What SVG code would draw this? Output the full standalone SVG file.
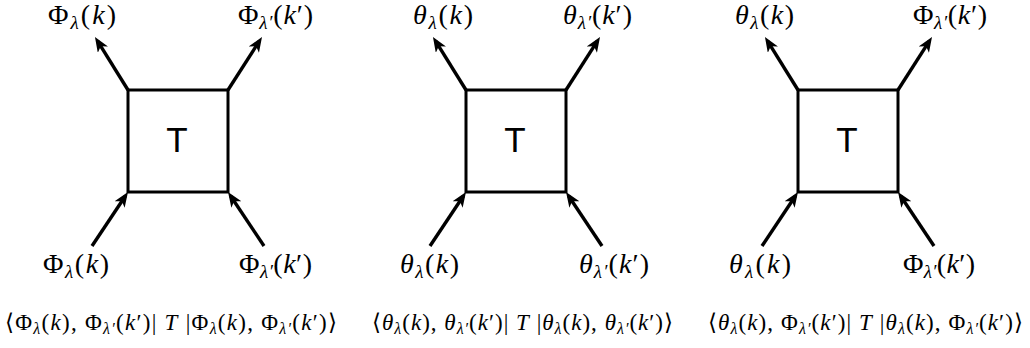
<svg xmlns="http://www.w3.org/2000/svg" width="1030" height="348" viewBox="0 0 1030 348">
<style>
.box{fill:#fff;stroke:#000;stroke-width:3}
.arr{stroke:#000;stroke-width:3.4;fill:none;marker-end:url(#ah)}
.T{font-family:"Liberation Sans",Arial,sans-serif;font-size:35px;text-anchor:middle;fill:#000}
.m{font-family:"Liberation Serif","DejaVu Serif",serif;fill:#000}
.lab{font-size:28px}
.fm{font-size:23px}
.i{font-style:italic}
.s1{font-size:19px;font-style:italic}
.s2{font-size:16px;font-style:italic}
</style>
<defs>
<marker id="ah" markerUnits="userSpaceOnUse" markerWidth="15" markerHeight="12" refX="10" refY="6" orient="auto" viewBox="0 0 15 12">
<path d="M0,0 L15,6 L0,12 L4,6 Z" fill="#000"/>
</marker>
</defs>
<g id="connectors">
<line class="arr" x1="128" y1="90" x2="97.6" y2="41.2"/>
<line class="arr" x1="228" y1="90" x2="259.3" y2="41.2"/>
<line class="arr" x1="92" y1="246" x2="125.2" y2="196.2"/>
<line class="arr" x1="264" y1="246" x2="230.8" y2="196.2"/>
<line class="arr" x1="466" y1="90" x2="435.6" y2="41.2"/>
<line class="arr" x1="566" y1="90" x2="597.3" y2="41.2"/>
<line class="arr" x1="430" y1="246" x2="463.2" y2="196.2"/>
<line class="arr" x1="602" y1="246" x2="568.8" y2="196.2"/>
<line class="arr" x1="798" y1="90" x2="767.6" y2="41.2"/>
<line class="arr" x1="898" y1="90" x2="929.3" y2="41.2"/>
<line class="arr" x1="762" y1="246" x2="795.2" y2="196.2"/>
<line class="arr" x1="934" y1="246" x2="900.8" y2="196.2"/>
</g>
<g id="box1"><rect class="box" x="128" y="90" width="100" height="102"/><text class="T" x="177" y="152">T</text></g>
<g id="box2"><rect class="box" x="466" y="90" width="100" height="102"/><text class="T" x="515" y="152">T</text></g>
<g id="box3"><rect class="box" x="798" y="90" width="100" height="102"/><text class="T" x="847" y="152">T</text></g>
<g id="labels1">
<text class="m lab" x="48" y="24" textLength="68" lengthAdjust="spacing">Φ<tspan class="s1" dy="5">λ</tspan><tspan dy="-5">(</tspan><tspan class="i">k</tspan>)</text>
<text class="m lab" x="238" y="24" textLength="75" lengthAdjust="spacing">Φ<tspan class="s1" dy="5">λ′</tspan><tspan dy="-5">(</tspan><tspan class="i">k</tspan>′)</text>
<text class="m lab" x="43" y="273" textLength="66" lengthAdjust="spacing">Φ<tspan class="s1" dy="5">λ</tspan><tspan dy="-5">(</tspan><tspan class="i">k</tspan>)</text>
<text class="m lab" x="239" y="273" textLength="73" lengthAdjust="spacing">Φ<tspan class="s1" dy="5">λ′</tspan><tspan dy="-5">(</tspan><tspan class="i">k</tspan>′)</text>
<text class="m fm" x="5" y="330" textLength="332" lengthAdjust="spacing">⟨Φ<tspan class="s2" dy="4">λ</tspan><tspan dy="-4">(</tspan><tspan class="i">k</tspan>), Φ<tspan class="s2" dy="4">λ′</tspan><tspan dy="-4">(</tspan><tspan class="i">k</tspan>′)| <tspan class="i">T</tspan> |Φ<tspan class="s2" dy="4">λ</tspan><tspan dy="-4">(</tspan><tspan class="i">k</tspan>), Φ<tspan class="s2" dy="4">λ′</tspan><tspan dy="-4">(</tspan><tspan class="i">k</tspan>′)⟩</text>
</g>
<g id="labels2">
<text class="m lab" x="413" y="24" textLength="60" lengthAdjust="spacing"><tspan class="i">θ</tspan><tspan class="s1" dy="5">λ</tspan><tspan dy="-5">(</tspan><tspan class="i">k</tspan>)</text>
<text class="m lab" x="563" y="24" textLength="69" lengthAdjust="spacing"><tspan class="i">θ</tspan><tspan class="s1" dy="5">λ′</tspan><tspan dy="-5">(</tspan><tspan class="i">k</tspan>′)</text>
<text class="m lab" x="400" y="273" textLength="59" lengthAdjust="spacing"><tspan class="i">θ</tspan><tspan class="s1" dy="5">λ</tspan><tspan dy="-5">(</tspan><tspan class="i">k</tspan>)</text>
<text class="m lab" x="579" y="273" textLength="70" lengthAdjust="spacing"><tspan class="i">θ</tspan><tspan class="s1" dy="5">λ′</tspan><tspan dy="-5">(</tspan><tspan class="i">k</tspan>′)</text>
<text class="m fm" x="372" y="330" textLength="301" lengthAdjust="spacing">⟨<tspan class="i">θ</tspan><tspan class="s2" dy="4">λ</tspan><tspan dy="-4">(</tspan><tspan class="i">k</tspan>), <tspan class="i">θ</tspan><tspan class="s2" dy="4">λ′</tspan><tspan dy="-4">(</tspan><tspan class="i">k</tspan>′)| <tspan class="i">T</tspan> |<tspan class="i">θ</tspan><tspan class="s2" dy="4">λ</tspan><tspan dy="-4">(</tspan><tspan class="i">k</tspan>), <tspan class="i">θ</tspan><tspan class="s2" dy="4">λ′</tspan><tspan dy="-4">(</tspan><tspan class="i">k</tspan>′)⟩</text>
</g>
<g id="labels3">
<text class="m lab" x="735" y="24" textLength="59" lengthAdjust="spacing"><tspan class="i">θ</tspan><tspan class="s1" dy="5">λ</tspan><tspan dy="-5">(</tspan><tspan class="i">k</tspan>)</text>
<text class="m lab" x="913" y="24" textLength="74" lengthAdjust="spacing">Φ<tspan class="s1" dy="5">λ′</tspan><tspan dy="-5">(</tspan><tspan class="i">k</tspan>′)</text>
<text class="m lab" x="729" y="273" textLength="62" lengthAdjust="spacing"><tspan class="i">θ</tspan><tspan class="s1" dy="5">λ</tspan><tspan dy="-5">(</tspan><tspan class="i">k</tspan>)</text>
<text class="m lab" x="903" y="273" textLength="72" lengthAdjust="spacing">Φ<tspan class="s1" dy="5">λ′</tspan><tspan dy="-5">(</tspan><tspan class="i">k</tspan>′)</text>
<text class="m fm" x="708" y="330" textLength="315" lengthAdjust="spacing">⟨<tspan class="i">θ</tspan><tspan class="s2" dy="4">λ</tspan><tspan dy="-4">(</tspan><tspan class="i">k</tspan>), Φ<tspan class="s2" dy="4">λ′</tspan><tspan dy="-4">(</tspan><tspan class="i">k</tspan>′)| <tspan class="i">T</tspan> |<tspan class="i">θ</tspan><tspan class="s2" dy="4">λ</tspan><tspan dy="-4">(</tspan><tspan class="i">k</tspan>), Φ<tspan class="s2" dy="4">λ′</tspan><tspan dy="-4">(</tspan><tspan class="i">k</tspan>′)⟩</text>
</g>
</svg>
